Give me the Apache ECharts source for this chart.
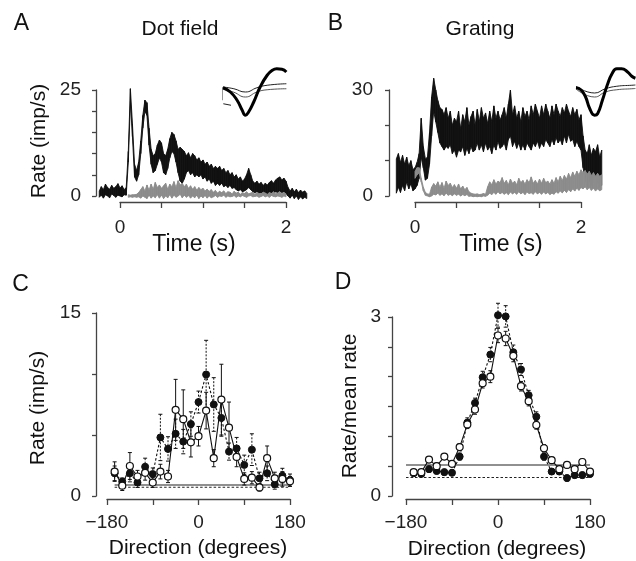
<!DOCTYPE html>
<html><head><meta charset="utf-8">
<script src="https://cdn.jsdelivr.net/npm/echarts@6/dist/echarts.min.js"></script>
<style>html,body{margin:0;padding:0;background:#fff}#c{width:636px;height:561px}</style>
</head><body><div id="c"></div><script>
// ---------- time grid for panels A and B (s) ----------
const T0 = -0.25, DT = 0.025, NT = 101;
const timeGrid = Array.from({length: NT}, (_, i) => +(T0 + i * DT).toFixed(3));

// ---------- Panel A: dot field (imp/s) band edges ----------
const aBlackLow = [-0.3,0.2,-0.5,0.3,0.0,-0.4,0.5,0.1,-0.3,0.2,
 0.0,-0.2,0.3,0.2,8,22,14,4.5,3.5,5,
 10,16,20,19,12,7.5,5.5,6,7.5,9,
 8,5.5,5,6.5,9,10.5,10,8,5.5,3.5,
 3,4,5.5,6,5,5.5,4.5,5,4.5,5,
 4,4.5,3.5,4,3,3.5,2.5,3,2.5,3,
 2.2,2.5,2,2.5,1.8,2,1.5,1.2,1.5,1,
 1.2,1.5,2,1.5,1,0.8,1,0.5,0.8,0.3,
 0.6,0.2,0.5,0.8,0.5,1,0.8,1.2,0.8,1,
 0.5,0,-0.5,0.2,-0.6,0,-0.8,-0.2,-0.7,-0.3,
 -0.6];
const aBlackHigh = [1.2,2.2,1.5,2.8,2.0,1.6,2.5,1.8,2.2,2.9,
 1.9,2.4,1.5,2.0,10.5,25.3,17,7.5,6,8,
 13,19,22.6,22,16,11,9.5,10,12,13.2,
 12.5,10,9.5,11,13.5,15,14.5,13,11,11.5,
 11,10.5,9.5,10.2,9,10,9.5,8.5,9,8,
 8.5,7.5,8,7,7.5,6.5,7,6.5,7,6,
 6.5,5.5,6,5,5.5,4.5,5,4,4.5,3.5,
 4,5,6.5,5,3.5,3,3.5,2.8,3.2,2.5,
 3,2.6,3.2,3.6,3,3.8,4.2,4.5,3.8,4.2,
 3.5,2,1.2,1.8,1,1.6,0.8,1.4,0.9,1.2,
 0.6];
const aGrayLow = [null,null,null,null,null,null,null,null,null,null,
 null,null,null,null,-0.3,-0.2,-0.3,-0.2,-0.3,-0.2,
 -0.5,0,-0.3,-0.6,0.2,-0.5,0,-0.4,0.3,-0.5,
 0.2,-0.6,0,-0.4,0.3,-0.5,0.2,-0.3,0,0.4,
 -0.4,0.2,-0.3,0.1,-0.5,0,-0.4,0.2,-0.6,0,
 -0.4,0.1,-0.5,0,-0.4,-0.2,0.1,-0.3,0,-0.1,
 0.2,-0.3,0,-0.2,-0.1,0.1,-0.3,0,-0.2,0.1,
 -0.1,-0.3,0,0.1,-0.2,-0.1,0,-0.3,-0.1,0.1,
 -0.2,0,-0.3,0.1,-0.1,-0.2,0,-0.1,-0.3,0,
 -0.2,null,null,null,null,null,null,null,null,null,
 null];
const aGrayHigh = [null,null,null,null,null,null,null,null,null,null,
 null,null,null,null,0.3,0.2,0.3,0.3,0.4,0.8,
 1.5,2.2,1.2,2.6,1.4,2.8,1.6,3.2,2.0,2.6,
 1.8,2.4,3.0,1.6,2.8,2.2,3.4,2.0,3.6,2.6,
 3.0,2.2,2.8,1.8,2.4,1.6,2.2,1.4,2.0,1.5,
 1.8,1.2,1.6,1.1,1.5,0.9,1.3,0.7,1.1,0.8,
 1.2,0.6,1.0,0.9,0.5,1.1,0.7,0.9,0.4,0.8,
 0.6,1.0,0.5,0.7,0.9,0.4,0.8,0.6,0.5,0.9,
 0.7,0.4,0.8,0.6,1.0,0.5,0.7,0.9,0.6,0.8,
 0.5,null,null,null,null,null,null,null,null,null,
 null];

// ---------- Panel B: grating (imp/s) band edges ----------
const bBlackLow = [null,0.8,2.5,1,3,1.5,4,2,3.5,1.5,
 2,3,5,11,8,4.5,5,9,17,24,
 21,18,15,14,13,14,13.5,14.5,12,13,
 11,13,12.5,14,11.5,13.5,12,14,12.5,13,
 15,13,14.5,12.5,15,13,14,12,14.5,13,
 15.5,13.5,14,15,13,16,17,14,15.5,13.5,
 15,13,14.5,13,15,14,13,15,14,15.5,
 13.5,15,14,16,15,14,16,14.5,16.5,15,
 16,14.5,17,15,17.5,15.5,16,14,15.5,14,
 13,8,5,2.5,4.5,3,5,2,4,2.5,
 3];
const bBlackHigh = [null,10.5,12,9.5,11.5,9,11,8.5,10,7.5,
 8,9.5,12,22,14,10.5,11,18,28,33.3,
 30,27,25,24.5,23,25,22,24,20,22,
 21,24,19,23,21,25,20,22.5,24,20,
 24.5,21,25,22,23.5,20.5,24,21,25.5,22,
 24,21.5,23,25,22,26,30,23,25.5,22,
 24,21,25,22.5,24,21.5,25.5,23,26,24,
 22,25.5,23,26,24,22,25.5,23,26,24,
 22.5,25,23.5,26,24,22.5,25,23,24.5,21.5,
 23,17,13,12,14.5,11.5,13.5,12.5,14.5,11,
 13];
const bGrayLow = [null,null,null,null,null,null,null,null,null,null,
 5,6,6.5,4,1.5,0.2,0,-0.2,0,0.5,
 0.3,0.8,0.2,0.6,0.1,0.8,0.2,0.5,0.1,0.6,
 0.2,0.5,0,0.4,0.1,0.4,-0.1,0,-0.2,-0.1,
 -0.2,-0.1,-0.2,0,-0.1,0.2,0.8,0.4,1,0.5,
 1.2,0.6,1,0.5,0.9,0.4,1.1,0.6,1,0.5,
 1.2,0.6,1,0.4,1.1,0.7,0.9,0.5,1.2,0.6,
 1,0.5,1.1,0.6,1,0.4,0.8,0.5,1.2,0.8,
 1.4,0.9,1.6,1,1.8,1.2,2,1.4,2.2,1.6,
 2.4,2,2.6,1.8,2.4,1.6,2.2,1.4,2,1.5,
 1.8];
const bGrayHigh = [null,null,null,null,null,null,null,null,null,null,
 7,8,8,5,2.5,1,0.6,0.5,2.5,3.5,
 2.8,4,2.5,3.8,2.2,4.2,3,3.6,2.4,3.2,
 2.2,3.4,2,2.8,1.8,2.4,1.2,0.8,0.6,0.5,
 0.6,0.4,0.5,0.7,0.5,2.6,4,3.2,4.6,3.4,
 4.2,3.8,5.2,3.6,4.4,3.2,4.8,3.6,4.2,3.2,
 5,3.8,4.4,3.4,4.6,3.8,5.4,3.6,4.4,3.4,
 4.8,3.6,5,3.8,4.2,3.4,4.6,3.6,5.2,4,
 5.6,4.4,5.8,4.8,6.4,5.2,6.8,5.6,7,6,
 7.4,6.6,7.2,6.2,7,5.8,6.6,5.6,6.4,5.6,
 6];

// ---------- spike waveform insets (ms-normalised, amplitude-normalised) ----------
const waveAT = [0,0.115,0.22,0.30,0.35,0.40,0.48,0.58,0.69,0.77,0.84,0.92,0.99];
const waveAThick = [0.17,0,-0.33,-0.73,-0.93,-0.8,-0.4,0.2,0.67,0.87,0.93,0.91,0.8];
const waveAThinT = [0,0.17,0.35,0.53,0.69,0.99];
const waveAThinUp = [0.2,0.13,0,0.17,0.27,0.33];
const waveAThinLo = [0.12,-0.01,-0.2,0,0.09,0.13];
const waveBT = [0,0.08,0.16,0.23,0.31,0.36,0.44,0.52,0.6,0.68,0.76,0.86,0.93,0.99];
const waveBThick = [0.17,0.09,-0.2,-0.67,-0.93,-0.87,-0.33,0.27,0.73,0.93,0.93,0.8,0.63,0.55];
const waveBThinT = [0,0.31,0.49,0.68,0.93,0.99];
const waveBThinUp = [0.23,-0.04,0.13,0.23,0.27,0.28];
const waveBThinLo = [0.12,-0.2,0,0.09,0.13,0.14];
const scaleVX = [-0.073,-0.016,-0.016,-0.073];
const scaleVY = [0.2,0.2,-0.33,-0.33];
const scaleHX = [0.005,0.005,0.125];
const scaleHY = [-0.47,-0.53,-0.53];

// ---------- Panels C and D: direction tuning ----------
const directions = [-165,-150,-135,-120,-105,-90,-75,-60,-45,-30,-15,0,15,30,45,60,75,90,105,120,135,150,165,180];
const cOpen   = [2.0,0.85,2.46,1.6,1.9,1.1,2.0,1.6,7.06,6.3,4.4,4.9,7.0,3.1,7.9,5.6,3.2,1.4,1.5,0.7,3.1,1.45,1.4,1.2];
const cOpenErr= [0.8,0.4,1.1,0.5,0.6,0.4,0.6,0.5,2.5,2.4,1.2,0.8,1.5,0.7,2.9,2.1,0.8,0.5,0.5,0.3,1.0,0.5,0.6,0.4];
const cFilled = [1.86,1.18,1.86,1.1,2.4,1.8,4.8,3.86,5.1,4.46,5.9,7.7,9.96,7.5,6.4,3.64,3.9,2.55,3.8,1.45,1.86,0.96,1.67,1.3];
const cFilledErr=[0.6,0.3,0.7,0.4,0.7,0.5,1.9,1.0,1.2,1.0,1.0,0.9,2.8,2.2,1.5,0.7,0.9,0.8,1.3,0.5,0.6,0.4,0.6,0.5];
const cBaseOpen = 0.9, cBaseFilled = 0.72;
const dOpen   = [0.4,0.4,0.61,0.5,0.66,0.54,0.82,1.2,1.45,1.89,2.0,2.69,2.64,2.35,1.84,1.59,1.19,0.8,0.6,0.45,0.52,0.45,0.57,0.41];
const dOpenErr= [0.04,0.04,0.05,0.05,0.05,0.05,0.06,0.07,0.08,0.08,0.1,0.12,0.12,0.1,0.08,0.08,0.07,0.06,0.05,0.05,0.05,0.05,0.05,0.05];
const dFilled = [0.38,0.37,0.45,0.42,0.4,0.39,0.66,1.23,1.56,1.99,2.37,3.03,3.01,2.41,2.12,1.69,1.33,0.66,0.41,0.41,0.30,0.35,0.35,0.37];
const dFilledErr=[0.04,0.04,0.05,0.05,0.05,0.05,0.06,0.08,0.08,0.1,0.12,0.2,0.18,0.12,0.1,0.08,0.08,0.06,0.05,0.05,0.05,0.05,0.05,0.05];
const dBaseOpen = 0.52, dBaseFilled = 0.31;
const baseSpanC = [-165, 180], baseSpanD = [-180, 180];

// ---------- helpers ----------
const FONT = '"Liberation Sans", Arial, Helvetica, sans-serif';
const AX = '#444';
const fmtNum = v => (v < 0 ? '\u2212' + Math.abs(v) : String(v));
const onlyLabels = vals => v => (vals.some(a => Math.abs(a - v) < 1e-9) ? fmtNum(v) : '');

function xAx(grid, min, max, interval, labels, offset, margin, show) {
  if (show === false) return {gridIndex: grid, type: 'value', min, max, show: false};
  return {gridIndex: grid, type: 'value', min, max, interval, offset,
    axisLine: {show: true, onZero: false, lineStyle: {color: AX, width: 1.3}},
    axisTick: {show: true, length: 6, lineStyle: {color: AX, width: 1.3}},
    axisLabel: {formatter: onlyLabels(labels), fontSize: 19, color: '#222', margin, fontFamily: FONT},
    splitLine: {show: false}};
}
function yAx(grid, min, max, interval, labels, offset, margin, show) {
  if (show === false) return {gridIndex: grid, type: 'value', min, max, show: false};
  return {gridIndex: grid, type: 'value', min, max, interval, offset,
    axisLine: {show: true, onZero: false, lineStyle: {color: AX, width: 1.3}},
    axisTick: {show: true, length: 4, lineStyle: {color: AX, width: 1.3}},
    axisLabel: {formatter: onlyLabels(labels), fontSize: 19, color: '#222', margin, fontFamily: FONT},
    splitLine: {show: false}};
}
// band drawn as quadrilateral segments between consecutive samples
function band(ax, lo, hi, color, z) {
  const data = [];
  for (let i = 0; i < timeGrid.length - 1; i++) {
    if (lo[i] == null || hi[i] == null || lo[i + 1] == null || hi[i + 1] == null) continue;
    data.push([timeGrid[i], lo[i], hi[i], timeGrid[i + 1], lo[i + 1], hi[i + 1]]);
  }
  return {type: 'custom', xAxisIndex: ax, yAxisIndex: ax, z, silent: true, clip: false,
    encode: {x: [0, 3], y: [1, 2, 4, 5]},
    renderItem: function (params, api) {
      const a = api.coord([api.value(0), api.value(1)]);
      const b = api.coord([api.value(0), api.value(2)]);
      const c = api.coord([api.value(3), api.value(5)]);
      const d = api.coord([api.value(3), api.value(4)]);
      return {type: 'polygon', shape: {points: [a, b, c, d]},
        style: {fill: color, stroke: color, lineWidth: 0.9}};
    },
    data};
}
function pairs(xs, ys) { return xs.map((x, i) => [x, ys[i]]); }
function errRender(dashed) {
  return function (params, api) {
    const x = api.value(0), lo = api.value(1), hi = api.value(2);
    const p1 = api.coord([x, hi]), p2 = api.coord([x, lo]);
    const cap = 2;
    const style = {stroke: '#111', lineWidth: 1};
    if (dashed) style.lineDash = [2, 1.5];
    return {type: 'group', children: [
      {type: 'line', shape: {x1: p1[0], y1: p1[1], x2: p2[0], y2: p2[1]}, style},
      {type: 'line', shape: {x1: p1[0] - cap, y1: p1[1], x2: p1[0] + cap, y2: p1[1]}, style: {stroke: '#111', lineWidth: 1}},
      {type: 'line', shape: {x1: p2[0] - cap, y1: p2[1], x2: p2[0] + cap, y2: p2[1]}, style: {stroke: '#111', lineWidth: 1}}
    ]};
  };
}
function errSeries(ax, vals, errs, dashed) {
  return {type: 'custom', xAxisIndex: ax, yAxisIndex: ax, renderItem: errRender(dashed), z: 1, silent: true,
    encode: {x: 0, y: [1, 2]},
    data: directions.map((d, i) => [d, +(vals[i] - errs[i]).toFixed(3), +(vals[i] + errs[i]).toFixed(3)])};
}
function tuning(ax, vals, filled, z) {
  return {type: 'line', xAxisIndex: ax, yAxisIndex: ax, data: pairs(directions, vals), z, silent: true,
    symbol: 'circle', symbolSize: 7, clip: false,
    lineStyle: {color: '#111', width: 1.1, type: filled ? [2.5, 2] : 'solid'},
    itemStyle: filled ? {color: '#111', borderColor: '#111', borderWidth: 1} : {color: '#fff', borderColor: '#111', borderWidth: 1.2}};
}
function hline(ax, span, v, dashed) {
  return {type: 'line', xAxisIndex: ax, yAxisIndex: ax, data: [[span[0], v], [span[1], v]], symbol: 'none', z: 0, silent: true,
    lineStyle: {color: '#222', width: 1.1, type: dashed ? [2.5, 2] : 'solid'}};
}
function wave(ax, xs, ys, width, color) {
  return {type: 'line', xAxisIndex: ax, yAxisIndex: ax, data: pairs(xs, ys), symbol: 'none', smooth: true, clip: false, z: 5, silent: true,
    lineStyle: {color, width}};
}
function bar(ax, xs, ys) {
  return {type: 'line', xAxisIndex: ax, yAxisIndex: ax, data: pairs(xs, ys), symbol: 'none', clip: false, z: 5, silent: true,
    lineStyle: {color: '#222', width: 1}};
}
function txt(text, x, y, size, rot) {
  const el = {type: 'text', x, y, silent: true,
    style: {text, fill: '#111', font: size + 'px ' + FONT, textAlign: 'center', textVerticalAlign: 'middle'}};
  if (rot) el.rotation = Math.PI / 2;
  return el;
}

const chart = echarts.init(document.getElementById('c'), null, {renderer: 'canvas'});
chart.setOption({
  animation: false,
  backgroundColor: '#fff',
  textStyle: {fontFamily: FONT},
  grid: [
    {left: 120, top: 90, width: 166, height: 106},
    {left: 415, top: 90, width: 166, height: 106},
    {left: 107, top: 313, width: 183, height: 183},
    {left: 406, top: 317, width: 184, height: 179},
    {left: 223, top: 67, width: 64, height: 50},
    {left: 576, top: 67, width: 64, height: 50}
  ],
  xAxis: [
    xAx(0, 0, 2, 0.5, [0, 2], 6, 16),
    xAx(1, 0, 2, 0.5, [0, 2], 6, 16),
    xAx(2, -180, 180, 90, [-180, 0, 180], 3, 14),
    xAx(3, -180, 180, 90, [-180, 0, 180], 3, 14),
    xAx(4, 0, 1, 1, [], 0, 0, false),
    xAx(5, 0, 1, 1, [], 0, 0, false)
  ],
  yAxis: [
    yAx(0, 0, 25, 5, [0, 25], 24, 15),
    yAx(1, 0, 30, 10, [0, 30], 26, 16),
    yAx(2, 0, 15, 5, [0, 15], 11, 15),
    yAx(3, 0, 3, 0.5, [0, 3], 14, 11),
    yAx(4, -1, 1, 1, [], 0, 0, false),
    yAx(5, -1, 1, 1, [], 0, 0, false)
  ],
  graphic: [
    txt('A', 21.5, 24, 23), txt('B', 335.5, 24, 23), txt('C', 20.5, 285, 23), txt('D', 343, 283, 23),
    txt('Dot field', 180, 29, 21), txt('Grating', 480, 29, 21),
    txt('Rate (imp/s)', 39, 141, 21, true),
    txt('Time (s)', 194, 245, 23), txt('Time (s)', 501, 245, 23),
    txt('Rate (imp/s)', 38, 408, 21, true),
    txt('Rate/mean rate', 350, 406, 21, true),
    txt('Direction (degrees)', 198, 548, 21), txt('Direction (degrees)', 497, 549, 21)
  ],
  series: [
    band(0, aBlackLow, aBlackHigh, '#111', 2),
    band(0, aGrayLow, aGrayHigh, '#8c8c8c', 3),
    band(1, bBlackLow, bBlackHigh, '#111', 2),
    band(1, bGrayLow, bGrayHigh, '#8c8c8c', 3),
    wave(4, waveAThinT, waveAThinUp, 1, '#222'), wave(4, waveAThinT, waveAThinLo, 1, '#555'),
    wave(4, waveAT, waveAThick, 3, '#000'),
    bar(4, scaleVX, scaleVY), bar(4, scaleHX, scaleHY),
    wave(5, waveBThinT, waveBThinUp, 1, '#222'), wave(5, waveBThinT, waveBThinLo, 1, '#555'),
    wave(5, waveBT, waveBThick, 3, '#000'),
    hline(2, baseSpanC, cBaseOpen, false), hline(2, baseSpanC, cBaseFilled, true),
    hline(3, baseSpanD, dBaseOpen, false), hline(3, baseSpanD, dBaseFilled, true),
    errSeries(2, cFilled, cFilledErr, true), errSeries(2, cOpen, cOpenErr, false),
    errSeries(3, dFilled, dFilledErr, true), errSeries(3, dOpen, dOpenErr, false),
    tuning(2, cFilled, true, 3), tuning(2, cOpen, false, 4),
    tuning(3, dFilled, true, 3), tuning(3, dOpen, false, 4)
  ]
});
</script></body></html>
